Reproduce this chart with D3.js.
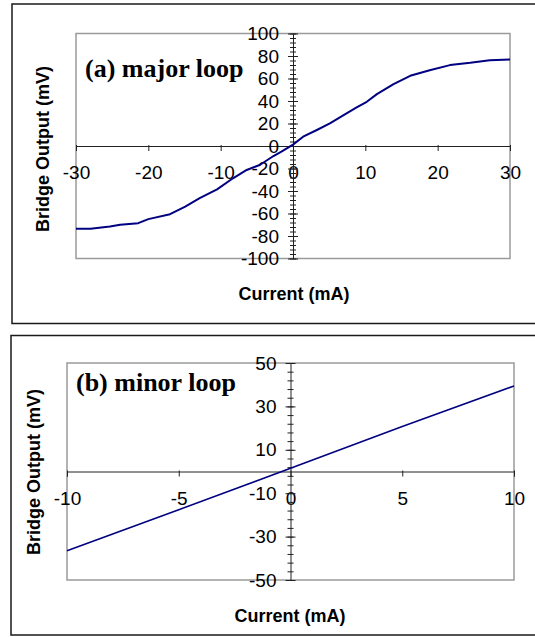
<!DOCTYPE html>
<html>
<head>
<meta charset="utf-8">
<script src="https://cdn.jsdelivr.net/npm/d3@7"></script>
<style>
  body { margin: 0; background: #fff; }
  svg { display: block; }
</style>
</head>
<body>
<script>
// (a) major loop
const majorCurrent = [-30, -28, -25.3, -23.9, -21.4, -20, -17, -14.9, -12.9, -10.5, -8.3, -6.4, -4.6, -2.7, -1.6, 0,
                      1.4, 3.3, 5.1, 7, 8.8, 10.2, 11.6, 13.9, 16.2, 18.9, 21.7, 24.5, 27.2, 30];
const majorOutput = [-73.6, -73.6, -71.6, -70, -68.6, -65, -60.6, -53.8, -46.4, -38.5, -28.7, -21.3, -16.9, -8.9, -5, 1.2,
                     8.3, 14.2, 20.1, 27.5, 34.3, 39.3, 46.1, 55, 62.4, 67.4, 71.9, 73.9, 76.3, 76.9];
const majorXTicks = [-30, -20, -10, 0, 10, 20, 30];
const majorYTicks = [-100, -80, -60, -40, -20, 0, 20, 40, 60, 80, 100];

// (b) minor loop
const minorCurrent = [-10, -5, 0, 5, 10];
const minorOutput = [-36.5, -17.6, 1.5, 20.7, 39.4];
const minorXTicks = [-10, -5, 0, 5, 10];
const minorYTicks = [-50, -30, -10, 10, 30, 50];

const W = 535, H = 637;
const TICK_FONT = '19px "Liberation Sans", Arial, sans-serif';
const plain = d => String(d);   // plain hyphen minus, like the original

function drawPanel(svg, p)
{
    const g = svg.append('g');

    // outer chart frame (runs off the right edge like the original)
    g.append('rect')
        .attr('x', p.frame[0]).attr('y', p.frame[1])
        .attr('width', W + 20).attr('height', p.frame[2] - p.frame[1])
        .attr('fill', 'none').attr('stroke', '#1a1a1a').attr('stroke-width', 1.5);

    const x = d3.scaleLinear().domain(p.xDomain).range([p.left, p.right]);
    const y = d3.scaleLinear().domain(p.yDomain).range([p.bottom, p.top]);

    // plot area border
    g.append('rect')
        .attr('x', p.left).attr('y', p.top)
        .attr('width', p.right - p.left).attr('height', p.bottom - p.top)
        .attr('fill', 'none').attr('stroke', '#9a9a9a').attr('stroke-width', 1.5);

    // x axis on y = 0
    const xAxis = g.append('g')
        .attr('transform', `translate(0,${y(0)})`)
        .call(d3.axisBottom(x).tickValues(p.xTicks).tickSizeOuter(0)
            .tickSize(5).tickPadding(15).tickFormat(plain));
    xAxis.select('.domain').attr('stroke', '#222');
    xAxis.selectAll('.tick line').attr('stroke', '#222').attr('y1', -1);

    // y axis on x = 0 : minor ticks every 4, major ticks with labels
    const yMinor = d3.range(p.yDomain[0], p.yDomain[1] + 0.01, 4);
    const yMinorAxis = g.append('g')
        .attr('transform', `translate(${x(0)},0)`)
        .call(d3.axisLeft(y).tickValues(yMinor).tickSize(3).tickSizeOuter(0).tickFormat(''));
    yMinorAxis.select('.domain').attr('stroke', '#222');
    yMinorAxis.selectAll('.tick line').attr('stroke', '#222').attr('x1', 3);

    const yAxis = g.append('g')
        .attr('transform', `translate(${x(0)},0)`)
        .call(d3.axisLeft(y).tickValues(p.yTicks).tickSize(5).tickPadding(9).tickSizeOuter(0)
            .tickFormat(plain));
    yAxis.select('.domain').remove();
    yAxis.selectAll('.tick line').attr('stroke', '#222').attr('x1', 5);

    [xAxis, yAxis].forEach(a => a.selectAll('text')
        .style('font', TICK_FONT).attr('fill', '#000'));

    // data line
    const pts = p.xs.map((v, i) => [v, p.ys[i]]);
    g.append('path')
        .datum(pts)
        .attr('fill', 'none')
        .attr('stroke', '#000080')
        .attr('stroke-width', p.lineWidth)
        .attr('stroke-linejoin', 'round')
        .attr('d', d3.line().x(d => x(d[0])).y(d => y(d[1])));

    // panel tag
    g.append('text')
        .attr('x', p.tag[1]).attr('y', p.tag[2])
        .style('font', 'bold 26px "Liberation Serif", "Times New Roman", serif')
        .attr('fill', '#000')
        .text(p.tag[0]);

    // axis titles
    g.append('text')
        .attr('x', p.xTitle[0]).attr('y', p.xTitle[1])
        .attr('text-anchor', 'middle')
        .style('font', 'bold 18px "Liberation Sans", Arial, sans-serif')
        .text('Current (mA)');
    g.append('text')
        .attr('transform', `translate(${p.yTitle[0]},${p.yTitle[1]}) rotate(-90)`)
        .attr('text-anchor', 'middle')
        .attr('dy', '0.35em')
        .style('font', 'bold 18px "Liberation Sans", Arial, sans-serif')
        .text('Bridge Output (mV)');
}

function main()
{
    const svg = d3.select('body').append('svg')
        .attr('width', W).attr('height', H);

    drawPanel(svg, {
        frame: [12, 4, 323.5],
        left: 76, right: 510, top: 33.5, bottom: 258.5,
        xDomain: [-30, 30], yDomain: [-100, 100],
        xTicks: majorXTicks, yTicks: majorYTicks,
        xs: majorCurrent, ys: majorOutput, lineWidth: 2,
        tag: ['(a) major loop', 85, 77],
        xTitle: [294, 300], yTitle: [43, 149],
    });

    drawPanel(svg, {
        frame: [11, 335.5, 635],
        left: 67, right: 514, top: 363, bottom: 580,
        xDomain: [-10, 10], yDomain: [-50, 50],
        xTicks: minorXTicks, yTicks: minorYTicks,
        xs: minorCurrent, ys: minorOutput, lineWidth: 1.6,
        tag: ['(b) minor loop', 76, 391],
        xTitle: [290, 622], yTitle: [34, 472],
    });
}

main();
</script>
</body>
</html>
